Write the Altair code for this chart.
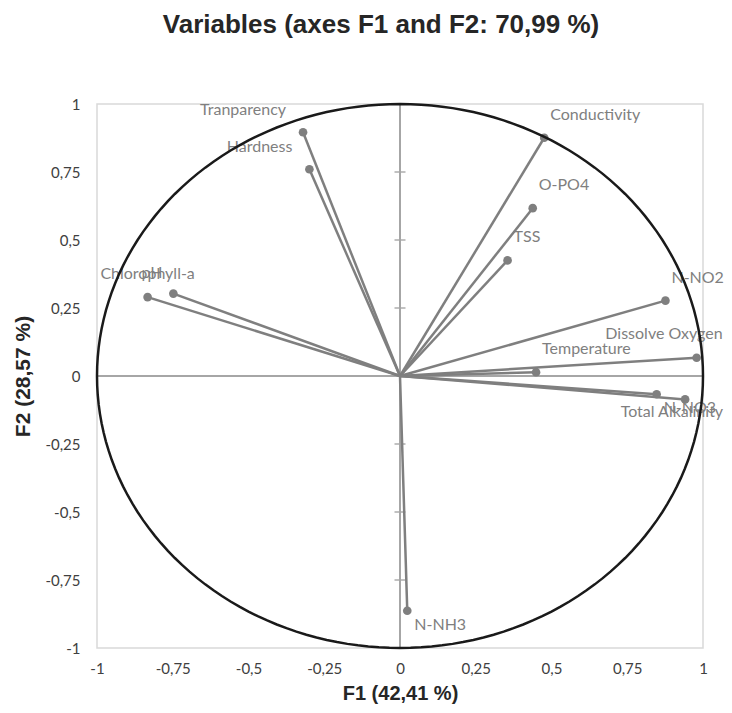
import altair as alt
import pandas as pd

# ---- data ----
variables = ["Tranparency", "Hardness", "pH", "Chlorophyll-a", "Conductivity",
             "O-PO4", "TSS", "N-NO2", "Dissolve Oxygen", "Temperature",
             "N-NO3", "Total Alkalinity", "N-NH3"]
f1 = [-0.320, -0.299, -0.748, -0.833, 0.476, 0.438, 0.355, 0.876, 0.979,
      0.449, 0.847, 0.941, 0.024]
f2 = [0.896, 0.760, 0.303, 0.290, 0.876, 0.617, 0.425, 0.277, 0.067,
      0.014, -0.067, -0.086, -0.863]
label_place = ["nw", "nw", "nw2", "n", "ne", "ne", "ne", "ne", "n_edge",
               "ne", "se", "s_edge", "se"]
tick_values = [-1, -0.75, -0.5, -0.25, 0, 0.25, 0.5, 0.75, 1]

# label placement styles: (align, dx, dy)
placements = {
    "nw": ("right", -17, -17),
    "nw2": ("right", -11, -16),
    "n": ("center", 0, -18),
    "ne": ("left", 6, -18),
    "se": ("left", 7, 19),
    "n_edge": ("right", 26, -19),
    "s_edge": ("right", 38, 18),
}

df = pd.DataFrame({"variable": variables, "F1": f1, "F2": f2,
                   "place": label_place})
ticks_df = pd.DataFrame({"t": tick_values})
zero_df = pd.DataFrame({"zero": [0]})

W, H = 606, 544
GRAY = "#7f7f7f"
AXIS_GRAY = "#a6a6a6"

xscale = alt.Scale(domain=[-1, 1], nice=False, zero=False)
yscale = alt.Scale(domain=[-1, 1], nice=False, zero=False)
label_expr = "replace(toString(datum.value), '.', ',')"

x_axis = alt.Axis(values=tick_values, labelExpr=label_expr, domain=False,
                  ticks=False, grid=False, labelFont="Lato", labelFontSize=15,
                  labelColor="#404040", labelPadding=13, labelFlush=False,
                  title="F1 (42,41 %)", titleFont="Liberation Sans",
                  titleFontSize=20, titleFontWeight="bold",
                  titleColor="#262626", titlePadding=7)
y_axis = alt.Axis(values=tick_values, labelExpr=label_expr, domain=False,
                  ticks=False, grid=False, labelFont="Lato", labelFontSize=15,
                  labelColor="#404040", labelPadding=17, labelFlush=False,
                  title="F2 (28,57 %)", titleFont="Liberation Sans",
                  titleFontSize=21, titleFontWeight="bold",
                  titleColor="#262626", titlePadding=11)


def X(field):
    return alt.X(field, scale=xscale, axis=x_axis)


def Y(field):
    return alt.Y(field, scale=yscale, axis=y_axis)


# axis lines through the origin
hline = alt.Chart(zero_df).mark_rule(color=AXIS_GRAY, strokeWidth=2).encode(
    y=Y("zero:Q"))
vline = alt.Chart(zero_df).mark_rule(color=AXIS_GRAY, strokeWidth=2).encode(
    x=X("zero:Q"))
vticks = alt.Chart(ticks_df).transform_calculate(zero="0").mark_tick(
    orient="horizontal", size=11, thickness=2, color=AXIS_GRAY).encode(
    x=X("zero:Q"), y=Y("t:Q"))

# correlation circle
circle = alt.Chart(alt.sequence(0, 361, 2, as_="deg")).transform_calculate(
    cx="cos(datum.deg * PI / 180)", cy="sin(datum.deg * PI / 180)"
).mark_line(color="#1a1a1a", strokeWidth=2.5).encode(
    x=X("cx:Q"), y=Y("cy:Q"), order="deg:Q")

vectors = alt.Chart(df).transform_calculate(x0="0", y0="0").mark_rule(
    color=GRAY, strokeWidth=2.5).encode(
    x=X("x0:Q"), y=Y("y0:Q"), x2="F1:Q", y2="F2:Q")

points = alt.Chart(df).mark_circle(size=75, color=GRAY, opacity=1).encode(
    x=X("F1:Q"), y=Y("F2:Q"))

label_layers = []
for name, (align, dx, dy) in placements.items():
    label_layers.append(
        alt.Chart(df).transform_filter(alt.datum.place == name).mark_text(
            align=align, dx=dx, dy=dy, baseline="alphabetic", font="Lato",
            fontSize=16, color=GRAY).encode(
            x=X("F1:Q"), y=Y("F2:Q"), text="variable:N"))

chart = alt.layer(hline, vline, vticks, vectors, points, *label_layers, circle).properties(
    width=W, height=H,
    title=alt.TitleParams("Variables (axes F1 and F2: 70,99 %)",
                          font="Liberation Sans", fontSize=26,
                          fontWeight="bold", color="#262626",
                          anchor="middle", offset=59, dx=-19),
    padding={"left": 89, "top": 96, "right": 21, "bottom": 57},
    autosize="none",
).configure_view(stroke="#d9d9d9", strokeWidth=1.5)

chart.save("out.html", embed_options={"renderer": "svg", "actions": False})
